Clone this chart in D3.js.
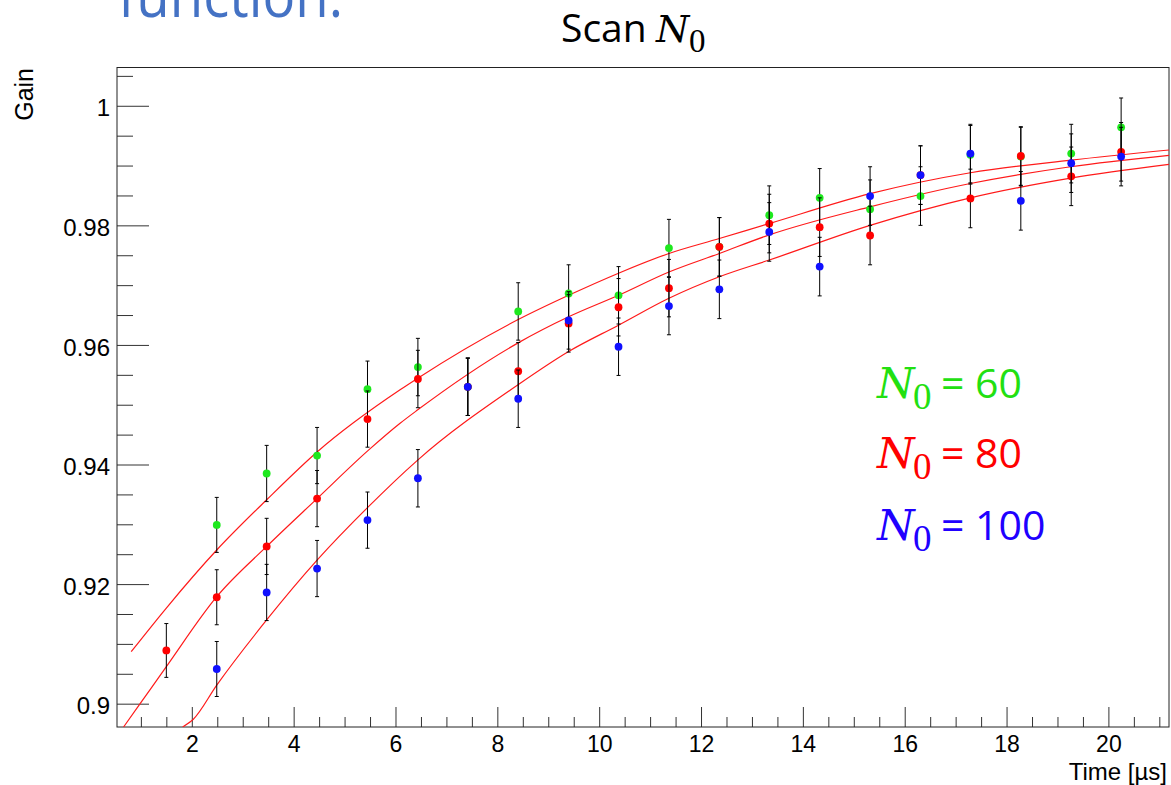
<!DOCTYPE html>
<html>
<head>
<meta charset="utf-8">
<script src="https://cdn.jsdelivr.net/npm/d3@7"></script>
<style>
  body { margin: 0; background: #fff; }
  svg { display: block; }
</style>
</head>
<body>
<div id="chart"></div>
<script>
"use strict"

// Time of every measured point [us]
const times = [1.50, 2.49, 3.47, 4.46, 5.45, 6.44, 7.42, 8.41, 9.40, 10.38,
               11.37, 12.36, 13.34, 14.33, 15.32, 16.31, 17.29, 18.28, 19.27, 20.25];

// Gain for each N0 (null = no point drawn)
const gainN60  = [null, 0.9299, 0.9385, 0.9415, 0.9526, 0.9563, 0.9530, 0.9656, 0.9686, 0.9683,
                  0.9762, 0.9764, 0.9817, 0.9846, 0.9827, 0.9849, 0.9918, 0.9915, 0.9920, 0.9964];
const gainN80  = [0.9089, 0.9178, 0.9263, 0.9343, 0.9476, 0.9543, 0.9530, 0.9556, 0.9636, 0.9663,
                  0.9695, 0.9764, 0.9803, 0.9797, 0.9783, 0.9884, 0.9845, 0.9916, 0.9882, 0.9923];
const gainN100 = [null, 0.9058, 0.9186, 0.9226, 0.9307, 0.9377, 0.9530, 0.9510, 0.9641, 0.9597,
                  0.9665, 0.9693, 0.9789, 0.9731, 0.9849, 0.9884, 0.9920, 0.9841, 0.9904, 0.9915];

// half length of the error bars (same for the three scans)
const gainErr = [0.0045, 0.0046, 0.0047, 0.0047, 0.0047, 0.0048, 0.0048, 0.0048, 0.0048, 0.0048,
                 0.0048, 0.0049, 0.0049, 0.0049, 0.0049, 0.0049, 0.0049, 0.0049, 0.0049, 0.0049];

// Fit curves
const fitTime60 = [0.81, 1.50, 2.49, 3.47, 4.46, 6.09, 6.43, 8.40, 9.40, 10.38, 11.37, 12.36, 13.34, 15.32, 17.29, 19.26, 21.19];
const fitGain60 = [0.9087, 0.9160, 0.9257, 0.9341, 0.9421, 0.9525, 0.9544, 0.9642, 0.9683, 0.9720, 0.9753, 0.9778, 0.9803, 0.9853, 0.9888, 0.9909, 0.9926];

const fitTime80 = [0.66, 0.985, 1.50, 2.49, 3.47, 4.46, 5.47, 6.09, 6.43, 8.40, 9.40, 10.38, 11.37, 12.36, 13.34, 15.32, 17.29, 19.26, 21.19];
const fitGain80 = [0.8961, 0.9000, 0.9062, 0.9179, 0.9263, 0.9343, 0.9424, 0.9469, 0.9491, 0.9603, 0.9647, 0.9683, 0.9722, 0.9753, 0.9784, 0.9831, 0.9870, 0.9898, 0.9917];

const fitTime100 = [1.82, 2.03, 2.49, 3.47, 4.46, 5.44, 6.43, 8.40, 9.40, 10.38, 11.37, 12.36, 13.34, 15.32, 17.29, 19.26, 21.19];
const fitGain100 = [0.8961, 0.8974, 0.9031, 0.9140, 0.9240, 0.9327, 0.9407, 0.9533, 0.9589, 0.9633, 0.9678, 0.9714, 0.9742, 0.9800, 0.9846, 0.9879, 0.9902];

const scanLabels = ["60", "80", "100"];

const xTicks = [2, 4, 6, 8, 10, 12, 14, 16, 18, 20];
const yTicks = [0.9, 0.92, 0.94, 0.96, 0.98, 1];

const xDomain = [0.531, 21.19];
const yDomain = [0.8961, 1.0064];

// colours of the three scans
const colors = {green: "#1ee81e", red: "#ff0000", blue: "#1010ff"};
const textColors = {green: "#22e011", red: "#ff0000", blue: "#2000ff"};

const width = 1171;
const height = 785;
const frame = {left: 117, right: 1169, top: 67.5, bottom: 727};

const svg = d3.select("#chart").append("svg")
  .attr("width", width)
  .attr("height", height);

svg.append("rect")
  .attr("width", width)
  .attr("height", height)
  .attr("fill", "#fff");

// Slide title, cut off by the top of the picture (as in the original)
svg.append("text")
  .attr("x", 118)
  .attr("y", 17)
  .attr("textLength", 225)
  .attr("lengthAdjust", "spacingAndGlyphs")
  .style("font-family", "'Open Sans', sans-serif")
  .style("font-size", "60px")
  .attr("fill", "#4472c4")
  .text("function.");

const x = d3.scaleLinear().domain(xDomain).range([frame.left, frame.right]);
const y = d3.scaleLinear().domain(yDomain).range([frame.bottom, frame.top]);

const tickFont = "'Liberation Sans', Arial, Helvetica, sans-serif";

// Minor ticks (4 divisions between labels)
const xMinor = d3.range(1, 21.01, 0.5).filter(v => !xTicks.includes(v));
const yMinor = d3.range(0.9, 1.0051, 0.005)
  .filter(v => !yTicks.some(t => Math.abs(t - v) < 1e-6));

// X axis
const xAxisG = svg.append("g")
  .attr("transform", `translate(0, ${frame.bottom})`);

xAxisG.append("g")
  .call(d3.axisBottom(x).tickValues(xMinor).tickSize(-10).tickFormat(""))
  .call(g => g.select(".domain").remove());

xAxisG.append("g")
  .call(d3.axisBottom(x).tickValues(xTicks).tickSize(-20).tickPadding(9).tickFormat(d3.format("d")))
  .call(g => g.select(".domain").remove())
  .selectAll("text")
    .style("font-family", tickFont)
    .style("font-size", "23px")
    .attr("fill", "#000");

// Y axis
const yAxisG = svg.append("g")
  .attr("transform", `translate(${frame.left}, 0)`);

yAxisG.append("g")
  .call(d3.axisLeft(y).tickValues(yMinor).tickSize(-16).tickFormat(""))
  .call(g => g.select(".domain").remove());

yAxisG.append("g")
  .call(d3.axisLeft(y).tickValues(yTicks).tickSize(-32).tickPadding(7).tickFormat(d => d3.format("")(+d.toFixed(2))))
  .call(g => g.select(".domain").remove())
  .selectAll("text")
    .attr("dy", "0.42em")
    .style("font-family", tickFont)
    .style("font-size", "24px")
    .attr("fill", "#000");

svg.selectAll(".tick line").attr("stroke", "#333");

// Frame
svg.append("rect")
  .attr("x", frame.left)
  .attr("y", frame.top)
  .attr("width", frame.right - frame.left)
  .attr("height", frame.bottom - frame.top)
  .attr("fill", "none")
  .attr("stroke", "#222")
  .attr("stroke-width", 1);

// Axis titles
svg.append("text")
  .attr("transform", "translate(33, 68) rotate(-90)")
  .style("text-anchor", "end")
  .style("font-family", tickFont)
  .style("font-size", "25px")
  .text("Gain");

svg.append("text")
  .attr("x", 1167)
  .attr("y", 779.5)
  .style("text-anchor", "end")
  .style("font-family", tickFont)
  .style("font-size", "24px")
  .text("Time [µs]");

// "N0" label as one text: italic N, subscript 0, then the rest
function nLabel(text, xPos, nSize, subSize, subGap, rest, restSize, restGap) {
  const drop = Math.round(subSize * 0.3);
  text.append("tspan")
    .attr("x", xPos)
    .style("font-family", "'DejaVu Serif', serif")
    .style("font-style", "italic")
    .style("font-size", nSize + "px")
    .text("N");
  text.append("tspan")
    .attr("x", xPos + subGap)
    .attr("dy", drop)
    .style("font-family", "'Liberation Serif', serif")
    .style("font-size", subSize + "px")
    .text("0");
  if (rest) {
    text.append("tspan")
      .attr("x", xPos + restGap)
      .attr("dy", -drop)
      .style("font-family", "'Open Sans', sans-serif")
      .style("font-size", restSize + "px")
      .text(rest);
  }
}

// Plot title
const title = svg.append("text")
  .attr("x", 561)
  .attr("y", 42)
  .attr("fill", "#000");
title.append("tspan")
  .style("font-family", "'Open Sans', sans-serif")
  .style("font-size", "39px")
  .text("Scan");
nLabel(title, 656, 38, 33, 33, null, 0, 0);

// Build the series table
const series = [
  {name: scanLabels[0], gain: gainN60,  fit: d3.zip(fitTime60, fitGain60),   color: colors.green, text: textColors.green},
  {name: scanLabels[1], gain: gainN80,  fit: d3.zip(fitTime80, fitGain80),   color: colors.red,   text: textColors.red},
  {name: scanLabels[2], gain: gainN100, fit: d3.zip(fitTime100, fitGain100), color: colors.blue,  text: textColors.blue}
];

svg.append("clipPath")
  .attr("id", "plotclip")
  .append("rect")
    .attr("x", frame.left)
    .attr("y", frame.top)
    .attr("width", frame.right - frame.left)
    .attr("height", frame.bottom - frame.top);

const plot = svg.append("g").attr("clip-path", "url(#plotclip)");

// Fit curves (all drawn in red)
const line = d3.line()
  .x(d => x(d[0]))
  .y(d => y(d[1]))
  .curve(d3.curveMonotoneX);

plot.selectAll("path.fit")
  .data(series)
  .enter().append("path")
    .attr("class", "fit")
    .attr("d", d => line(d.fit))
    .attr("fill", "none")
    .attr("stroke", "#ff1a1a")
    .attr("stroke-width", 1.2);

// Points with error bars, one scan after the other
series.forEach(s => {
  const pts = times
    .map((t, i) => ({t: t, g: s.gain[i], e: gainErr[i]}))
    .filter(d => d.g !== null);

  const grp = plot.append("g");

  const bars = grp.selectAll("g.err")
    .data(pts)
    .enter().append("g")
      .attr("class", "err")
      .attr("stroke", "#000")
      .attr("stroke-width", 1);

  bars.append("line")
    .attr("x1", d => x(d.t))
    .attr("x2", d => x(d.t))
    .attr("y1", d => y(d.g - d.e))
    .attr("y2", d => y(d.g + d.e));

  bars.append("line")
    .attr("x1", d => x(d.t) - 2)
    .attr("x2", d => x(d.t) + 2)
    .attr("y1", d => y(d.g - d.e))
    .attr("y2", d => y(d.g - d.e));

  bars.append("line")
    .attr("x1", d => x(d.t) - 2)
    .attr("x2", d => x(d.t) + 2)
    .attr("y1", d => y(d.g + d.e))
    .attr("y2", d => y(d.g + d.e));

  grp.selectAll("circle")
    .data(pts)
    .enter().append("circle")
      .attr("cx", d => x(d.t))
      .attr("cy", d => y(d.g))
      .attr("r", 3.9)
      .attr("fill", s.color);
});

// Legend
const legendBase = [398, 468, 540];
series.forEach((s, i) => {
  const t = svg.append("text")
    .attr("y", legendBase[i])
    .attr("fill", s.text);
  nLabel(t, 877, 43, 37, 36, "= " + s.name, 41, 64);
});
</script>
</body>
</html>
